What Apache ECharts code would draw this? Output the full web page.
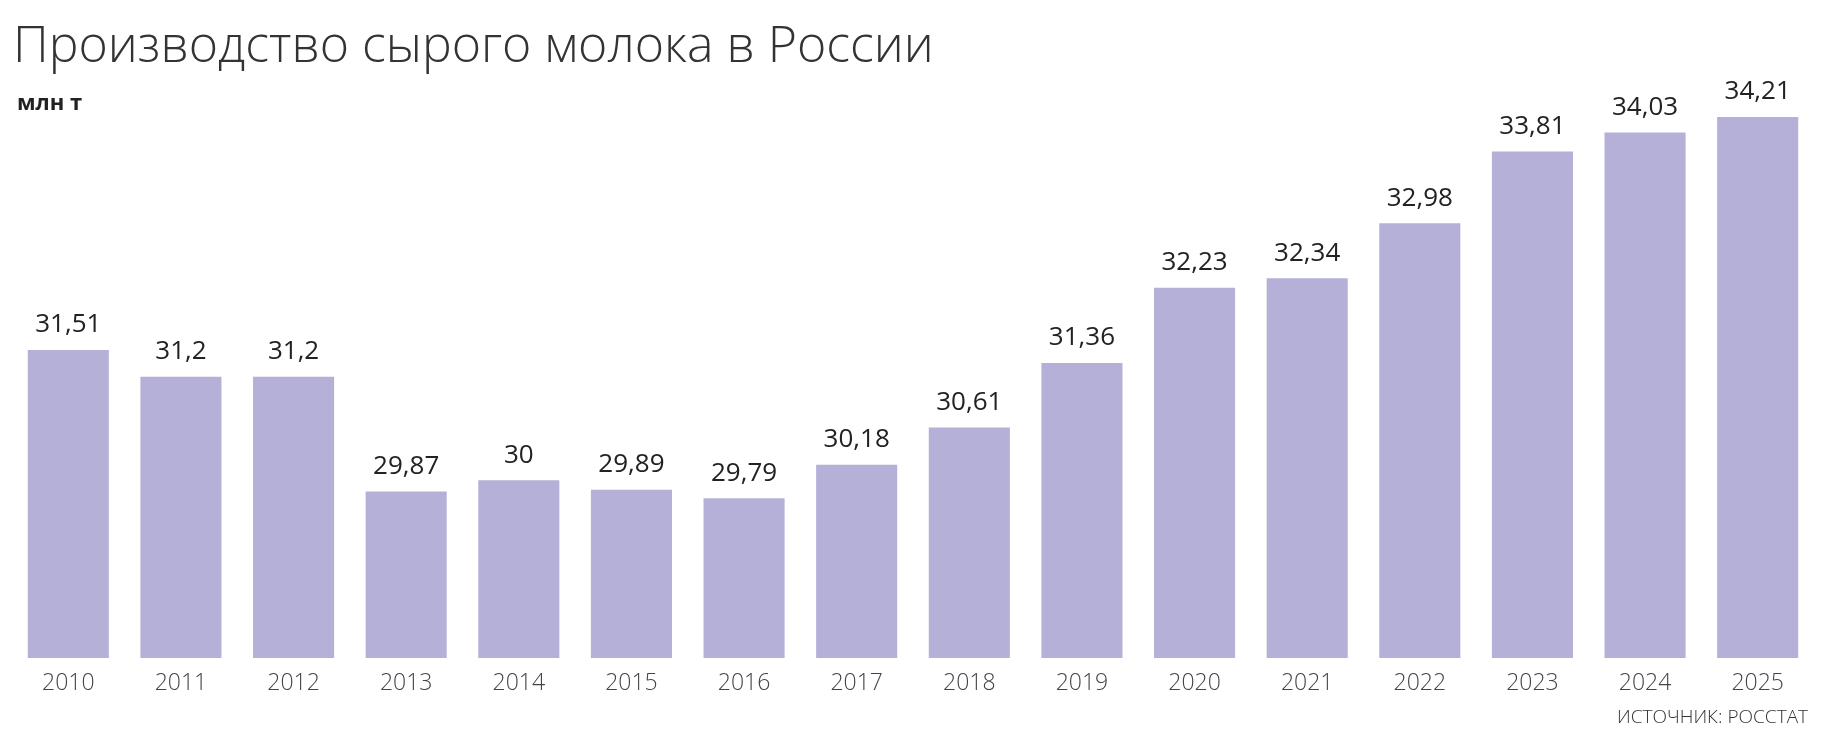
<!DOCTYPE html>
<html style="height: 100%">
<head>
    <meta charset="utf-8">
</head>
<body style="height: 100%; margin: 0; background: #fff">
    <div id="container" style="width: 1833px; height: 740px"></div>
    <script src="https://cdn.jsdelivr.net/npm/echarts@6/dist/echarts.min.js"></script>
    <script type="text/javascript">
        var years = ['2010', '2011', '2012', '2013', '2014', '2015', '2016', '2017',
            '2018', '2019', '2020', '2021', '2022', '2023', '2024', '2025'];
        var milk = [31.51, 31.2, 31.2, 29.87, 30, 29.89, 29.79, 30.18,
            30.61, 31.36, 32.23, 32.34, 32.98, 33.81, 34.03, 34.21];

        var myChart = echarts.init(document.getElementById('container'));
        var option = {
            animation: false,
            textStyle: { fontFamily: 'Open Sans' },
            title: [
                {
                    text: 'Производство сырого молока в России',
                    left: 8, top: 18,
                    textStyle: { fontSize: 50, fontWeight: 300, color: '#333', fontFamily: 'Open Sans' }
                },
                {
                    text: 'млн т',
                    left: 12, top: 88,
                    textStyle: { fontSize: 22, fontWeight: 'bold', color: '#222' }
                },
                {
                    text: 'ИСТОЧНИК: РОССТАТ',
                    right: 20, top: 703,
                    textStyle: { fontSize: 19, fontWeight: 300, color: '#333' }
                }
            ],
            grid: { left: 12, right: 19, top: 117, bottom: 82 },
            xAxis: {
                type: 'category',
                data: years,
                axisLine: { show: false },
                axisTick: { show: false },
                axisLabel: { fontSize: 23, color: '#444', margin: 14, fontWeight: 300 }
            },
            yAxis: {
                type: 'value',
                min: 27.94,
                max: 34.21,
                show: false
            },
            series: [{
                type: 'bar',
                data: milk,
                barCategoryGap: '28%',
                itemStyle: { color: '#b5b0d8' },
                label: {
                    show: true,
                    position: 'top',
                    distance: 12,
                    fontSize: 26,
                    color: '#222',
                    formatter: function (p) { return String(p.value).replace('.', ','); }
                }
            }]
        };
        myChart.setOption(option);
    </script>
</body>
</html>
